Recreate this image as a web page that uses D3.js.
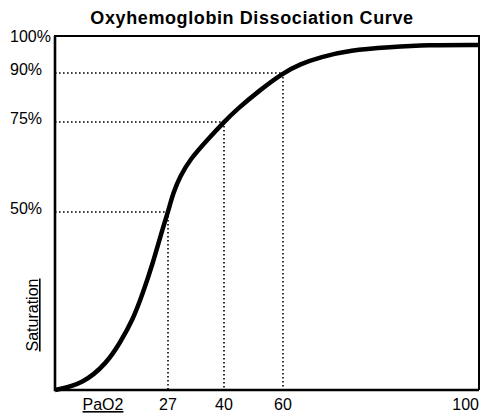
<!DOCTYPE html>
<html>
<head>
<meta charset="utf-8">
<script src="https://cdn.jsdelivr.net/npm/d3@7/dist/d3.min.js"></script>
<style>
  html, body { margin: 0; padding: 0; background: #fff; }
  svg { display: block; }
  text { font-family: Arial, "Liberation Sans", Helvetica, sans-serif; fill: #000; }
</style>
</head>
<body>
<svg id="chart" width="492" height="416"></svg>
<script>
// PaO2 (mmHg) vs haemoglobin O2 saturation (%)
const pao2 = [0, 6.7, 12.4, 15.5, 18.6, 21, 23.4, 25.6, 27, 28.2, 29.8, 32.1, 36.1, 40, 44.4, 52.2, 60, 63.5, 67.6, 73.7, 81.8, 89.4, 100];
const saturation = [0, 1.7, 7.6, 13.2, 19.7, 27.2, 35.7, 44.9, 50, 55.3, 59.9, 64.6, 70, 75, 78.9, 84.8, 90, 92.4, 94.3, 96.2, 97, 97.6, 97.6];

// Reference points marked with dotted guides
const markPao2 = [27, 40, 60];
const markSat = [50, 75, 90];

const xTicks = [27, 40, 60, 100];
const yTicks = [100, 90, 75, 50];
const yTickLabels = ["100%", "90%", "75%", "50%"];

const svg = d3.select("#chart");
const L = 55, R = 479, T = 36, B = 390;

// Schematic (piecewise) axes
const x = d3.scaleLinear().domain([0, 27, 40, 60, 100]).range([L, 168, 224, 283, R]);
const y = d3.scaleLinear().domain([0, 50, 75, 90, 100]).range([B, 212, 122, 73, T]);

// Title
svg.append("text")
  .attr("x", 252).attr("y", 24)
  .attr("text-anchor", "middle")
  .style("font-size", "18px").style("font-weight", "bold")
  .style("letter-spacing", "0.6px")
  .text("Oxyhemoglobin Dissociation Curve");

// Dotted guide lines
const guides = svg.append("g")
  .attr("stroke", "#000").attr("stroke-width", 1.6)
  .attr("stroke-dasharray", "1.6,2.4").attr("fill", "none");
markPao2.forEach((p, i) => {
  guides.append("line")
    .attr("x1", x(0)).attr("x2", x(p))
    .attr("y1", y(markSat[i])).attr("y2", y(markSat[i]));
  guides.append("line")
    .attr("x1", x(p)).attr("x2", x(p))
    .attr("y1", y(markSat[i])).attr("y2", y(0));
});

// Plot frame
svg.append("path")
  .attr("d", `M${L},${B}V${T}H${R}V${B}`)
  .attr("fill", "none").attr("stroke", "#000").attr("stroke-width", 2);
svg.append("path")
  .attr("d", `M${L},${T}V${B}H${R}`)
  .attr("fill", "none").attr("stroke", "#000").attr("stroke-width", 2.6);

// Curve (B-spline through the sampled readings)
const pts = pao2.map((p, i) => [x(p), y(saturation[i])]);
svg.append("path")
  .datum(pts)
  .attr("d", d3.line().curve(d3.curveBasis))
  .attr("fill", "none").attr("stroke", "#000")
  .attr("stroke-width", 4.5).attr("stroke-linecap", "butt");

// X tick labels
svg.append("g").selectAll("text").data(xTicks).join("text")
  .attr("x", d => x(d))
  .attr("y", 410)
  .attr("text-anchor", d => d === 100 ? "end" : "middle")
  .style("font-size", "16px")
  .text(d => d);

// Y tick labels
svg.append("g").selectAll("text").data(yTicks).join("text")
  .attr("x", 10)
  .attr("y", d => d === 100 ? y(d) + 6 : y(d) + 2)
  .style("font-size", "16px")
  .text((d, i) => yTickLabels[i]);

// Axis titles
svg.append("text")
  .attr("x", 103).attr("y", 410)
  .attr("text-anchor", "middle")
  .style("font-size", "16px").style("text-decoration", "underline")
  .text("PaO2");

svg.append("text")
  .attr("transform", "translate(38,315) rotate(-90)")
  .attr("text-anchor", "middle")
  .style("font-size", "16px").style("text-decoration", "underline")
  .text("Saturation");
</script>
</body>
</html>
